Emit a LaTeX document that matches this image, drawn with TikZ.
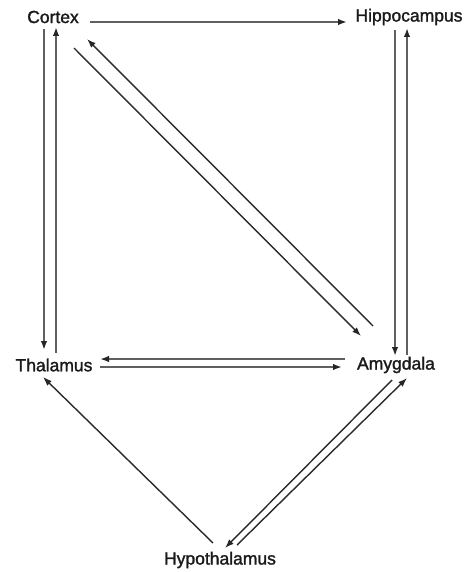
\documentclass[tikz,border=0pt]{standalone}
\usepackage{fontspec}
\setmainfont{Liberation Sans}[FakeBold=1.5]
\usetikzlibrary{arrows.meta}
\definecolor{linegray}{HTML}{606060}
\definecolor{diaggray}{HTML}{2A2A2A}
\definecolor{textgray}{HTML}{1A1A1A}
\begin{document}
\begin{tikzpicture}[x=1pt,y=-1pt,
  lbl/.style={inner sep=0pt,text=textgray,font=\fontsize{17.5}{20}\selectfont},
  ortho/.style={draw=linegray,line width=1.8pt,-{Latex[length=9pt,width=6.5pt,color=black!85]}},
  diag/.style={draw=diaggray,line width=1.4pt,-{Latex[length=9pt,width=6.5pt,color=black!85]}}]
\useasboundingbox[fill=white] (0,0) rectangle (466,572);
\node[lbl] (cortex) at (53,17) {Cortex};
\node[lbl] (hippo) at (409,17) {Hippocampus};
\node[lbl] (thal) at (54,365) {Thalamus};
\node[lbl] (amyg) at (396,365) {Amygdala};
\node[lbl] (hypo) at (220,560) {Hypothalamus};
% Cortex -> Hippocampus
\draw[ortho] ([shift={(37,5)}]cortex.center) -- ([shift={(-62,5)}]hippo.center);
% Cortex <-> Thalamus
\draw[ortho] ([shift={(-9,12)}]cortex.center) -- ([shift={(-10,-15)}]thal.center);
\draw[ortho] ([shift={(2,-12)}]thal.center) -- ([shift={(3,10)}]cortex.center);
% Hippocampus <-> Amygdala
\draw[ortho] ([shift={(-14,13)}]hippo.center) -- ([shift={(-1,-9)}]amyg.center);
\draw[ortho] ([shift={(11,-10)}]amyg.center) -- ([shift={(-2,11)}]hippo.center);
% Cortex <-> Amygdala
\draw[diag] ([shift={(21,31)}]cortex.center) -- ([shift={(-35,-29)}]amyg.center);
\draw[diag] ([shift={(-23,-39)}]amyg.center) -- ([shift={(34,22)}]cortex.center);
% Thalamus <-> Amygdala
\draw[ortho] ([shift={(-51,-6)}]amyg.center) -- ([shift={(46,-6)}]thal.center);
\draw[ortho] ([shift={(46,2)}]thal.center) -- ([shift={(-54,2)}]amyg.center);
% Hypothalamus -> Thalamus
\draw[diag] ([shift={(-7,-17)}]hypo.center) -- ([shift={(-11,12)}]thal.center);
% Amygdala <-> Hypothalamus
\draw[diag] ([shift={(-4,15)}]amyg.center) -- ([shift={(5,-12)}]hypo.center);
\draw[diag] ([shift={(17,-15)}]hypo.center) -- ([shift={(11,13)}]amyg.center);
\end{tikzpicture}
\end{document}
